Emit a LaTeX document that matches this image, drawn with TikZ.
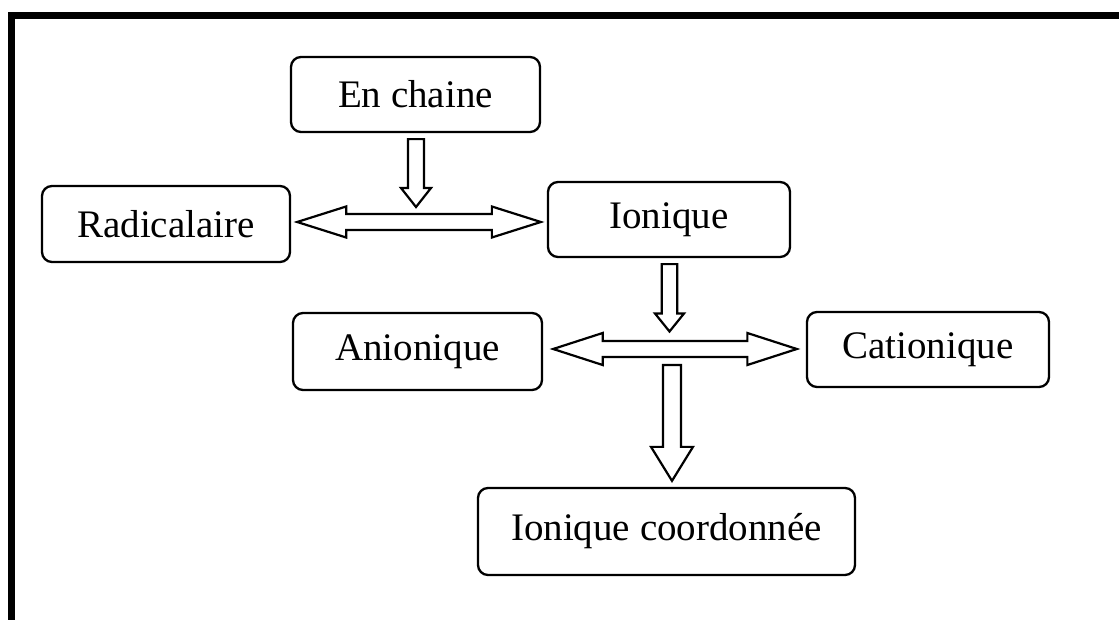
\documentclass[tikz,border=0pt]{standalone}
\usepackage{fontspec}
\setmainfont{Liberation Serif}
\usetikzlibrary{calc}

% vertical block arrow: #1 top of shaft, #2 tip, #3 shaft half-width,
% #4 head half-width, #5 head length
\newcommand\vblk[5]{%
  \draw[blk] let \p1=(#1), \p2=(#2) in
    (\x2,\y2) -- (\x2+#4pt,\y2+#5pt) -- (\x2+#3pt,\y2+#5pt) -- (\x2+#3pt,\y1)
    -- (\x2-#3pt,\y1) -- (\x2-#3pt,\y2+#5pt) -- (\x2-#4pt,\y2+#5pt) -- cycle;}

% horizontal double block arrow: #1 left tip, #2 right tip, #3 shaft half-width,
% #4 head half-width, #5 head length
\newcommand\hblk[5]{%
  \draw[blk] let \p1=(#1), \p2=(#2) in
    (\x1,\y1) -- (\x1+#5pt,\y1+#4pt) -- (\x1+#5pt,\y1+#3pt) -- (\x2-#5pt,\y1+#3pt)
    -- (\x2-#5pt,\y1+#4pt) -- (\x2,\y1) -- (\x2-#5pt,\y1-#4pt) -- (\x2-#5pt,\y1-#3pt)
    -- (\x1+#5pt,\y1-#3pt) -- (\x1+#5pt,\y1-#4pt) -- cycle;}

\tikzset{
  box/.style={draw, line width=2.3pt, rounded corners=10pt, inner sep=0pt,
    font=\fontsize{39}{45}\selectfont},
  blk/.style={draw, fill=white, line width=2.2pt, line join=miter},
}

\begin{document}
\begin{tikzpicture}[x=1pt, y=1pt]
  \useasboundingbox (0,0) rectangle (1119,619);
  \fill[white] (0,0) rectangle (1119,619);

  % frame (left and top edges)
  \draw[line width=7pt] (11.5,-10) -- (11.5,603.5) -- (1130,603.5);

  % boxes
  \node[box, minimum width=249pt, minimum height=75pt] (ench)  at (415.5,524.5) {En chaine};
  \node[box, minimum width=248pt, minimum height=76pt] (rad)   at (166,395) {Radicalaire};
  \node[box, minimum width=242pt, minimum height=75pt] (ion)   at (669,399.5) {Ionique};
  \node[box, minimum width=249pt, minimum height=77pt] (anio)  at (417.5,267.5) {Anionique};
  \node[box, minimum width=242pt, minimum height=75pt] (catio) at (928,269.5) {Cationique};
  \node[box, minimum width=377pt, minimum height=87pt] (coord) at (666.5,87.5) {Ionique coordonnée};

  % end points of the block arrows
  \coordinate (a1s) at ($(ench.south)+(0.5,-6)$);
  \coordinate (a1e) at (416,412);
  \coordinate (b1l) at ($(rad.east)+(6,2)$);
  \coordinate (b1r) at ($(ion.west)+(-6,-2.5)$);
  \coordinate (a2s) at ($(ion.south)+(0.5,-6)$);
  \coordinate (a2e) at (669.5,287.5);
  \coordinate (b2l) at ($(anio.east)+(10,2.5)$);
  \coordinate (b2r) at ($(catio.west)+(-9,0.5)$);
  \coordinate (a3s) at (672,254);
  \coordinate (a3e) at ($(coord.north)+(5.5,6)$);

  % block arrows
  \hblk{b1l}{b1r}{8}{15.5}{49}
  \vblk{a1s}{a1e}{8}{15}{19}
  \hblk{b2l}{b2r}{8}{16}{49.5}
  \vblk{a2s}{a2e}{7.8}{14.5}{18}
  \vblk{a3s}{a3e}{9}{21}{34}
\end{tikzpicture}
\end{document}
